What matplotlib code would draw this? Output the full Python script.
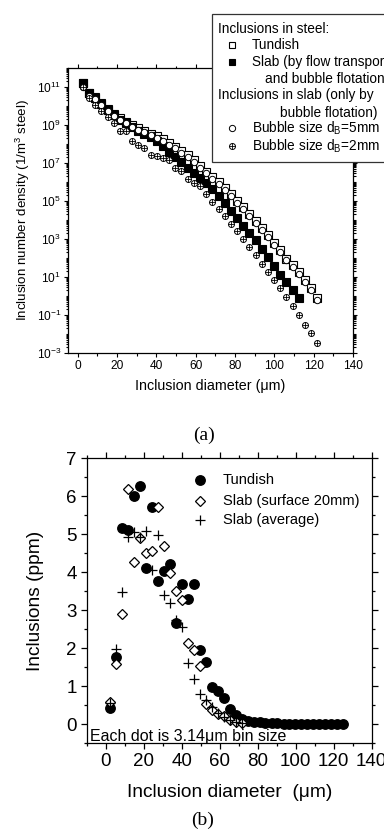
import matplotlib
matplotlib.use("Agg")
import matplotlib.pyplot as plt
from matplotlib.lines import Line2D
from matplotlib.patches import Rectangle
from matplotlib.ticker import LogLocator, MultipleLocator, FixedLocator, NullFormatter
import numpy as np

plt.rcParams['font.family'] = ['Liberation Sans', 'DejaVu Sans']
plt.rcParams['mathtext.fontset'] = 'custom'
plt.rcParams['mathtext.rm'] = 'Liberation Sans'
plt.rcParams['mathtext.it'] = 'Liberation Sans:italic'
plt.rcParams['mathtext.default'] = 'regular'

# ---------------- data ----------------
diam = [2.5, 5.6, 8.8, 11.9, 15.1, 18.2, 21.3, 24.5, 27.6, 30.8, 33.9, 37.0, 40.2, 43.3,
        46.5, 49.6, 52.7, 55.9, 59.0, 62.2, 65.3, 68.4, 71.6, 74.7, 77.9, 81.0, 84.1,
        87.3, 90.4, 93.6, 96.7, 99.8, 103.0, 106.1, 109.3, 112.4, 115.5, 118.7, 121.8, 125.0]

# (a) log10 of number density (1/m3 steel)
log_tundish = [11.2, 10.7, 10.45, 10.15, 9.85, 9.6, 9.38, 9.18, 9.0, 8.85, 8.7, 8.55, 8.42,
               8.25, 8.05, 7.85, 7.62, 7.4, 7.15, 6.85, 6.55, 6.25, 5.98, 5.7, 5.36, 5.01,
               4.67, 4.32, 3.97, 3.57, 3.19, 2.81, 2.41, 1.97, 1.63, 1.25, 0.84, 0.41, -0.1]
log_slab = [11.2, 10.66, 10.4, 10.13, 9.79, 9.53, 9.27, 9.09, 8.92, 8.71, 8.54, 8.36, 8.17,
            7.88, 7.6, 7.33, 7.05, 6.75, 6.45, 6.2, 5.95, 5.62, 5.27, 4.89, 4.49, 4.09,
            3.71, 3.33, 2.93, 2.49, 2.06, 1.59, 1.1, 0.76, 0.32, -0.11]
log_bubble5 = [11.0, 10.55, 10.35, 10.05, 9.75, 9.5, 9.28, 9.08, 8.9, 8.76, 8.62, 8.48, 8.34,
               8.17, 7.97, 7.77, 7.54, 7.31, 7.05, 6.76, 6.46, 6.16, 5.88, 5.6, 5.26, 4.91,
               4.57, 4.21, 3.86, 3.46, 3.08, 2.7, 2.3, 1.87, 1.52, 1.14, 0.73, 0.3, -0.2]
log_bubble2 = [11.0, 10.4, 10.05, 9.73, 9.44, 9.13, 8.66, 8.66, 8.17, 7.96, 7.79, 7.44, 7.35,
               7.27, 7.18, 6.75, 6.57, 6.14, 5.97, 5.79, 5.36, 4.96, 4.58, 4.2, 3.8, 3.4,
               2.98, 2.58, 2.18, 1.71, 1.28, 0.84, 0.41, -0.06, -0.54, -1.01, -1.5, -1.97, -2.45]

# (b) inclusions (ppm)
ppm_tundish = [0.44, 1.78, 5.17, 5.12, 6.0, 6.26, 4.12, 5.72, 3.78, 4.04, 4.22, 2.66, 3.69,
               3.29, 3.69, 1.95, 1.64, 0.98, 0.88, 0.68, 0.40, 0.24, 0.15, 0.10, 0.07, 0.05,
               0.04, 0.03, 0.03, 0.02, 0.02, 0.02, 0.01, 0.01, 0.01, 0.01, 0.01, 0.01, 0.01, 0.01]
ppm_slab_surface = [0.59, 1.60, 2.90, 6.19, 4.28, 4.90, 4.52, 4.55, 5.72, 4.70, 3.99, 3.52,
                    3.27, 2.13, 1.95, 1.54, 0.53, 0.37, 0.27, 0.21, 0.12, 0.07, 0.04]
ppm_slab_avg = [0.55, 1.97, 3.49, 4.94, 5.07, 4.92, 5.09, 4.06, 4.99, 3.39, 3.18, 2.75,
                2.55, 1.62, 1.18, 0.81, 0.63, 0.45, 0.30, 0.20, 0.12, 0.07, 0.04]

# ---------------- figure ----------------
W, H = 384, 830
fig = plt.figure(figsize=(W / 100, H / 100), dpi=100)


def fx(px):
    return px / W


def fy(py):
    return 1 - py / H


# ---------- (a) ----------
axA = fig.add_axes([fx(68), fy(353), fx(353 - 68), (353 - 68) / H])
xa = diam
axA.plot(xa[:len(log_tundish)], [10 ** v for v in log_tundish], ls='none', marker='s',
         ms=6.0, mfc='white', mec='black', mew=0.8, zorder=3)
axA.plot(xa[:len(log_slab)], [10 ** v for v in log_slab], ls='none', marker='s',
         ms=6.3, mfc='black', mec='black', mew=0.8, zorder=4)
axA.plot(xa[:len(log_bubble5)], [10 ** v for v in log_bubble5], ls='none', marker='o',
         ms=4.6, mfc='white', mec='black', mew=0.7, zorder=5)
axA.plot(xa[:len(log_bubble2)], [10 ** v for v in log_bubble2], ls='none', marker='o',
         ms=4.3, mfc='white', mec='black', mew=0.7, zorder=6)
axA.plot(xa[:len(log_bubble2)], [10 ** v for v in log_bubble2], ls='none', marker='+',
         ms=4.3, mec='black', mew=0.6, zorder=7)

axA.set_yscale('log')
axA.set_xlim(-5, 140)
axA.set_ylim(1e-3, 1e12)
axA.xaxis.set_major_locator(MultipleLocator(20))
axA.xaxis.set_minor_locator(MultipleLocator(10))
axA.yaxis.set_major_locator(FixedLocator([10.0 ** e for e in range(-3, 12, 2)]))
axA.yaxis.set_minor_locator(LogLocator(base=10, subs=np.arange(1, 10), numticks=40))
axA.yaxis.set_minor_formatter(NullFormatter())
axA.set_yticklabels([r'$10^{%d}$' % e for e in range(-3, 12, 2)])
axA.tick_params(which='both', direction='out', top=True, right=True, labelsize=8.6,
                width=0.8, pad=2)
axA.tick_params(which='major', length=3)
axA.tick_params(which='minor', length=1.8)
for s in axA.spines.values():
    s.set_linewidth(0.9)
axA.set_xlabel('Inclusion diameter (μm)', fontsize=10.3, labelpad=5)
axA.set_ylabel('Inclusion number density (1/m$^3$ steel)', fontsize=9.6, labelpad=3)

# legend box for (a) (opaque, runs past right figure edge as in the original)
rect = Rectangle((fx(212), fy(162)), 1.0, (162 - 14) / H, transform=fig.transFigure,
                 facecolor='white', edgecolor='#333333', linewidth=0.9, zorder=20)
fig.add_artist(rect)
lfs = 9.8
txt_kw = dict(fontsize=lfs, va='center', ha='left', zorder=21)
fig.text(fx(218), fy(29), 'Inclusions in steel:', **txt_kw)
fig.text(fx(252), fy(45), 'Tundish', **txt_kw)
fig.text(fx(252), fy(62), 'Slab (by flow transport', **txt_kw)
fig.text(fx(265), fy(79), 'and bubble flotation)', **txt_kw)
fig.text(fx(218), fy(95), 'Inclusions in slab (only by', **txt_kw)
fig.text(fx(280), fy(113), 'bubble flotation)', **txt_kw)
fig.text(fx(252), fy(128), 'Bubble size d$_B$=5mm', **txt_kw)
fig.text(fx(252), fy(146), 'Bubble size d$_B$=2mm', **txt_kw)


def fig_marker(px, py, **kw):
    fig.add_artist(Line2D([fx(px)], [fy(py)], transform=fig.transFigure, ls='none',
                          zorder=22, **kw))


fig_marker(232, 45, marker='s', ms=4.5, mfc='white', mec='black', mew=0.8)
fig_marker(232, 62, marker='s', ms=5.0, mfc='black', mec='black', mew=0.8)
fig_marker(232, 128, marker='o', ms=4.5, mfc='white', mec='black', mew=0.7)
fig_marker(232, 146, marker='o', ms=4.3, mfc='white', mec='black', mew=0.7)
fig_marker(232, 146, marker='+', ms=4.3, mec='black', mew=0.6)

fig.text(fx(204), fy(435), '(a)', family=['Liberation Serif', 'DejaVu Serif'],
         fontsize=14, ha='center', va='center')

# ---------- (b) ----------
axB = fig.add_axes([fx(86.7), fy(743.3), fx(371.7 - 86.7), (743.3 - 458.3) / H])
axB.plot(diam[:len(ppm_tundish)], ppm_tundish, ls='none', marker='o', ms=6.8,
         mfc='black', mec='black', zorder=3)
axB.plot(diam[:len(ppm_slab_surface)], ppm_slab_surface, ls='none', marker='D', ms=5.6,
         mfc='white', mec='black', mew=0.9, zorder=4)
axB.plot(diam[:len(ppm_slab_avg)], ppm_slab_avg, ls='none', marker='+', ms=6.5,
         mec='black', mew=0.9, zorder=5)

axB.set_xlim(-10, 140)
axB.set_ylim(-0.5, 7)
axB.xaxis.set_major_locator(MultipleLocator(20))
axB.xaxis.set_minor_locator(MultipleLocator(10))
axB.yaxis.set_major_locator(MultipleLocator(1))
axB.yaxis.set_minor_locator(MultipleLocator(0.5))
axB.tick_params(which='both', direction='out', top=True, right=True, labelsize=13.5,
                width=0.9, pad=3)
axB.tick_params(which='major', length=4)
axB.tick_params(which='minor', length=2.5)
for s in axB.spines.values():
    s.set_linewidth(0.9)
axB.set_xlabel('Inclusion diameter  (μm)', fontsize=13.8, labelpad=10)
axB.set_ylabel('Inclusions (ppm)', fontsize=13.8, labelpad=16)

# legend of (b)
leg_x_m = (200 - 86.7) / 285
leg_x_t = (223 - 86.7) / 285
rows = [(743.3 - 480) / 285, (743.3 - 501) / 285, (743.3 - 520) / 285]
axB.plot([leg_x_m], [rows[0]], transform=axB.transAxes, marker='o', ms=6.8,
         mfc='black', mec='black', ls='none', clip_on=False)
axB.plot([leg_x_m], [rows[1]], transform=axB.transAxes, marker='D', ms=5.6,
         mfc='white', mec='black', mew=0.9, ls='none', clip_on=False)
axB.plot([leg_x_m], [rows[2]], transform=axB.transAxes, marker='+', ms=6.5,
         mec='black', mew=0.9, ls='none', clip_on=False)
for r, t in zip(rows, ['Tundish', 'Slab (surface 20mm)', 'Slab (average)']):
    axB.text(leg_x_t, r, t, transform=axB.transAxes, fontsize=10.5, va='center', ha='left')

axB.text((90 - 86.7) / 285, (743.3 - 736) / 285, 'Each dot is 3.14μm bin size',
         transform=axB.transAxes, fontsize=11.5, va='center', ha='left')

fig.text(fx(203), fy(820), '(b)', family=['Liberation Serif', 'DejaVu Serif'],
         fontsize=14, ha='center', va='center')

fig.savefig('out.png', dpi=100, facecolor='white')
